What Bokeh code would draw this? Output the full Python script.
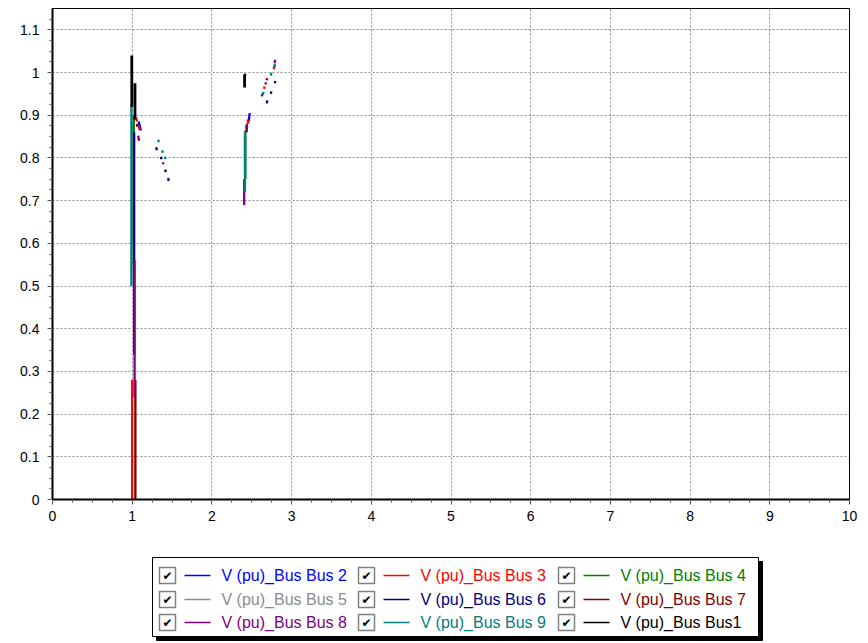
import numpy as np
from bokeh.plotting import figure
from bokeh.models import FixedTicker, Range1d, ColumnDataSource
from bokeh.layouts import column
from bokeh.embed import file_html
from bokeh.resources import INLINE
from bokeh.core.properties import value

nan = float("nan")

# ---------------- data ----------------
x_ticks = [0, 1, 2, 3, 4, 5, 6, 7, 8, 9, 10]
x_labels = ["0", "1", "2", "3", "4", "5", "6", "7", "8", "9", "10"]
y_ticks = [0, 0.1, 0.2, 0.3, 0.4, 0.5, 0.6, 0.7, 0.8, 0.9, 1, 1.1]
y_labels = ["0", "0.1", "0.2", "0.3", "0.4", "0.5", "0.6", "0.7", "0.8", "0.9", "1", "1.1"]

series_names = ["V (pu)_Bus Bus 2", "V (pu)_Bus Bus 3", "V (pu)_Bus Bus 4",
                "V (pu)_Bus Bus 5", "V (pu)_Bus Bus 6", "V (pu)_Bus Bus 7",
                "V (pu)_Bus Bus 8", "V (pu)_Bus Bus 9", "V (pu)_Bus Bus1"]
series_colors = ["#0000FF", "#FF0000", "#008000", "#8C8C8C", "#000080",
                 "#800000", "#800080", "#008080", "#000000"]

bus2_t = [1.08, 1.095, 1.108, nan, 2.475, 2.468, 2.46]
bus2_v = [0.885, 0.875, 0.864, nan, 0.905, 0.895, 0.885]

bus3_t = [1.0, 1.0, nan, 1.05, 1.06, nan, 1.085, 1.092, nan, 2.45, 2.455, nan,
          2.65, 2.665, nan, 2.775, 2.785]
bus3_v = [0.0, 0.28, nan, 0.895, 0.885, nan, 0.875, 0.866, nan, 0.89, 0.88, nan,
          0.962, 0.967, nan, 1.008, 1.016]

bus4_t = [1.02, 1.02, nan, 2.42, 2.42]
bus4_v = [0.90, 0.55, nan, 0.865, 0.75]

bus5_t = [1.01, 1.01, nan, 2.415, 2.415]
bus5_v = [0.88, 0.60, nan, 0.85, 0.78]

bus6_t = [1.025, 1.025, nan, 1.30, 1.31, nan, 1.36, 1.368, nan, 1.415, 1.42, nan,
          1.452, 1.457, nan, 2.69, 2.695, nan, 2.74, 2.745, nan, 2.79, 2.795]
bus6_v = [0.86, 0.34, nan, 0.825, 0.818, nan, 0.803, 0.797, nan, 0.773, 0.767, nan,
          0.753, 0.746, nan, 0.928, 0.935, nan, 0.95, 0.956, nan, 0.975, 0.98]

bus7_t = [1.04, 1.04, nan, 1.06, 1.065, nan, 2.435, 2.44, nan, 2.685, 2.695]
bus7_v = [0.0, 0.28, nan, 0.88, 0.873, nan, 0.86, 0.875, nan, 0.982, 0.987]

bus8_t = [1.03, 1.03, nan, 1.075, 1.085, nan, 1.385, 1.392, nan, 2.405, 2.405, nan,
          2.43, 2.44, nan, 2.625, 2.635, nan, 2.67, 2.68, nan, 2.785, 2.795]
bus8_v = [0.56, 0.24, nan, 0.852, 0.84, nan, 0.79, 0.785, nan, 0.75, 0.69, nan,
          0.868, 0.88, nan, 0.944, 0.95, nan, 0.972, 0.977, nan, 1.022, 1.03]

bus9_t = [0.99, 0.99, nan, 1.325, 1.335, nan, 1.378, 1.383, nan, 1.412, 1.416, nan,
          2.415, 2.415, nan, 2.64, 2.648, nan, 2.74, 2.745, nan, 2.785, 2.79]
bus9_v = [0.925, 0.50, nan, 0.843, 0.837, nan, 0.818, 0.812, nan, 0.803, 0.797, nan,
          0.86, 0.72, nan, 0.948, 0.955, nan, 0.993, 1.0, nan, 1.012, 1.02]

bus1_t = [0.995, 0.995, nan, 1.035, 1.035, nan, 2.42, 2.41, 2.41]
bus1_v = [1.04, 0.92, nan, 0.975, 0.89, nan, 0.997, 0.993, 0.965]

series_t = [bus2_t, bus3_t, bus4_t, bus5_t, bus6_t, bus7_t, bus8_t, bus9_t, bus1_t]
series_v = [bus2_v, bus3_v, bus4_v, bus5_v, bus6_v, bus7_v, bus8_v, bus9_v, bus1_v]

FONT = "Liberation Sans"
LEFT, RIGHT = 52, 11

# ---------------- main chart ----------------
p = figure(width=860, height=534, x_range=Range1d(0, 10), y_range=Range1d(0, 1.15),
           output_backend="svg", toolbar_location=None,
           min_border_left=LEFT, min_border_right=RIGHT, min_border_top=8,
           min_border_bottom=35)

draw_order = [3, 0, 1, 2, 4, 5, 6, 7, 8]
for i in draw_order:
    lw = 2.8 if i == 8 else 2.3
    p.line(series_t[i], series_v[i], line_color=series_colors[i], line_width=lw)

p.xaxis.ticker = FixedTicker(ticks=x_ticks, minor_ticks=list(np.arange(0, 10.01, 0.25)))
p.yaxis.ticker = FixedTicker(ticks=y_ticks, minor_ticks=list(np.arange(0, 1.151, 0.025)))
p.xaxis.major_label_overrides = {t: l for t, l in zip(x_ticks, x_labels)}
p.yaxis.major_label_overrides = {t: l for t, l in zip(y_ticks, y_labels)}

for ax in (p.xaxis[0], p.yaxis[0]):
    ax.axis_line_color = "black"
    ax.axis_line_width = 2
    ax.major_tick_line_color = "#555555"
    ax.major_tick_out = 5
    ax.major_tick_in = 0
    ax.minor_tick_line_color = "#555555"
    ax.minor_tick_out = 3
    ax.minor_tick_in = 0
    ax.major_label_text_font = FONT
    ax.major_label_text_font_size = "14px"
    ax.major_label_text_color = "black"
p.xaxis.major_label_standoff = 6
p.yaxis.major_label_standoff = 8

p.xgrid.ticker = FixedTicker(ticks=x_ticks)
p.ygrid.ticker = FixedTicker(ticks=y_ticks)
for g in (p.xgrid[0], p.ygrid[0]):
    g.grid_line_color = "#8C8C8C"
    g.grid_line_dash = "2 2"
    g.grid_line_width = 1
p.outline_line_color = "black"
p.outline_line_width = 1
p.background_fill_color = "white"
p.border_fill_color = "white"

# ---------------- legend panel (coordinates = page pixels) ----------------
leg = figure(width=860, height=109, x_range=Range1d(LEFT, 860 - RIGHT),
             y_range=Range1d(643, 534), output_backend="svg", toolbar_location=None,
             min_border_left=LEFT, min_border_right=RIGHT, min_border_top=0,
             min_border_bottom=0)
leg.axis.visible = False
leg.grid.visible = False
leg.outline_line_color = None
leg.border_fill_color = "white"
leg.background_fill_color = "white"

box_l, box_r, box_t, box_b = 152, 758, 557, 636
leg.quad(left=[box_l + 4], right=[box_r + 4], top=[box_t + 4], bottom=[box_b + 4],
         fill_color="black", line_color="black")
leg.quad(left=[box_l], right=[box_r], top=[box_t], bottom=[box_b],
         fill_color="white", line_color="black", line_width=1)

col_x = [159, 358, 558]
row_y = [575, 599, 622]
cb_x, cb_y, ln_x0, ln_x1, tx_x, tx_y = [], [], [], [], [], []
for k in range(len(series_names)):
    r, c = divmod(k, 3)
    x0 = col_x[c]
    y0 = row_y[r]
    cb_x.append(x0); cb_y.append(y0)
    ln_x0.append(x0 + 25); ln_x1.append(x0 + 51)
    tx_x.append(x0 + 62); tx_y.append(y0)

src = ColumnDataSource(dict(
    l=[x for x in cb_x], r=[x + 16 for x in cb_x],
    t=[y - 8 for y in cb_y], b=[y + 8 for y in cb_y],
    cx=[x + 8 for x in cb_x], cy=[y for y in cb_y],
    x0=ln_x0, x1=ln_x1, tx=tx_x, ty=tx_y,
    name=series_names, color=series_colors))
leg.quad(left="l", right="r", top="t", bottom="b", source=src,
         fill_color="white", line_color="#808080", line_width=1.5)
leg.text(x="cx", y="cy", text=value("\u2714"), source=src, text_align="center",
         text_baseline="middle", text_font=value("DejaVu Sans"),
         text_font_size="12px", text_color="black")
leg.segment(x0="x0", y0="ty", x1="x1", y1="ty", source=src, line_color="color",
            line_width=1.5)
leg.text(x="tx", y="ty", text="name", source=src, text_color="color",
         text_align="left", text_baseline="middle", text_font=value(FONT),
         text_font_size="16px")

layout = column(p, leg, spacing=0)
open("out.html", "w").write(file_html(layout, INLINE))
